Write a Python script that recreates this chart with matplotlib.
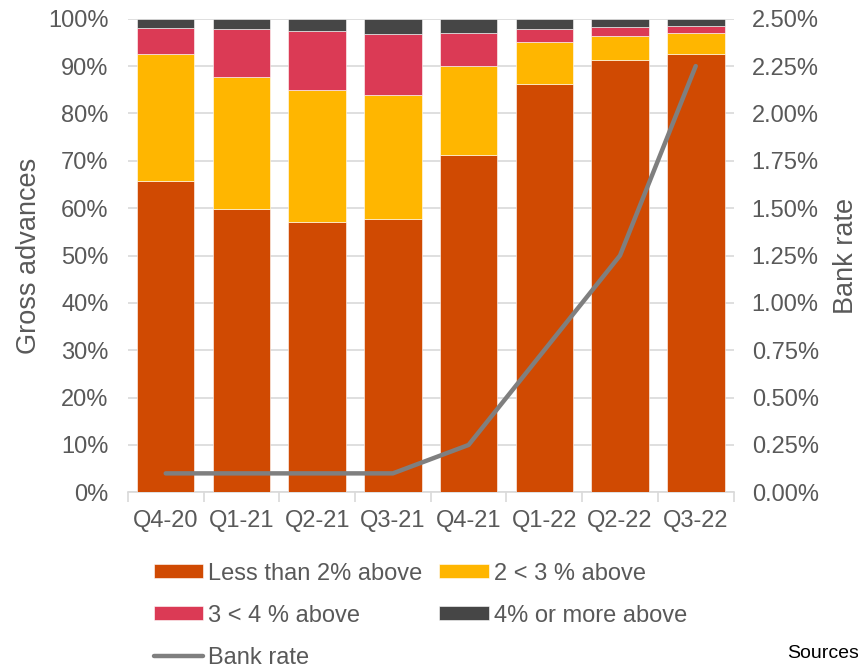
import matplotlib
matplotlib.use("Agg")
import matplotlib.pyplot as plt
import numpy as np
from matplotlib.ticker import FuncFormatter, MultipleLocator

plt.rcParams['font.family'] = ['Liberation Sans', 'DejaVu Sans']

quarters = ["Q4-20", "Q1-21", "Q2-21", "Q3-21", "Q4-21", "Q1-22", "Q2-22", "Q3-22"]
less_than_2 = [65.8, 59.8, 57.1, 57.7, 71.2, 86.3, 91.3, 92.6]
from_2_to_3 = [26.8, 27.9, 27.9, 26.2, 18.9, 8.8, 5.1, 4.4]
from_3_to_4 = [5.5, 10.2, 12.5, 12.9, 6.9, 2.8, 1.9, 1.5]
four_plus = [1.9, 2.1, 2.5, 3.2, 3.0, 2.1, 1.7, 1.5]
bank_rate = [0.10, 0.10, 0.10, 0.10, 0.25, 0.75, 1.25, 2.25]

c_less = "#D04A02"
c_23 = "#FFB600"
c_34 = "#DB3A55"
c_4 = "#464646"
c_line = "#7F7F7F"
txt = "#595959"
grid = "#D9D9D9"

fig = plt.figure(figsize=(8.58, 6.68), dpi=100)
ax = fig.add_axes([0.149, 0.263, 0.706, 0.709])
x = np.arange(len(quarters))
w = 0.76
series = [(less_than_2, c_less, "Less than 2% above"),
          (from_2_to_3, c_23, "2 < 3 % above"),
          (from_3_to_4, c_34, "3 < 4 % above"),
          (four_plus, c_4, "4% or more above")]
bottom = np.zeros(len(quarters))
handles = []
for vals, col, lab in series:
    b = ax.bar(x, vals, w, bottom=bottom, color=col, label=lab,
               edgecolor="#FFFFFF", linewidth=0.4, zorder=3)
    handles.append(b)
    bottom += np.array(vals)

ax.set_ylim(0, 100)
ax.set_xlim(-0.5, len(quarters) - 0.5)
ax.yaxis.set_major_locator(MultipleLocator(10))
ax.yaxis.set_major_formatter(FuncFormatter(lambda v, p: f"{v:.0f}%"))
ax.grid(axis="y", color=grid, linewidth=1.2, zorder=0)
ax.set_axisbelow(True)
for s in ["top", "right", "left"]:
    ax.spines[s].set_visible(False)
ax.spines["bottom"].set_color(grid)
ax.spines["bottom"].set_linewidth(1.2)
ax.set_xticks(x)
ax.set_xticklabels(quarters)
ax.set_xticks(np.arange(-0.5, len(quarters)), minor=True)
ax.tick_params(axis="x", which="major", length=0, pad=13, labelsize=17, labelcolor=txt)
ax.tick_params(axis="x", which="minor", length=7, color=grid, width=1.2)
ax.tick_params(axis="y", length=0, labelsize=17, labelcolor=txt, pad=14)
ax.set_ylabel("Gross advances", fontsize=19.5, color=txt, labelpad=4)

ax2 = ax.twinx()
ln, = ax2.plot(x, bank_rate, color=c_line, linewidth=3.2, solid_capstyle="round",
               solid_joinstyle="round", zorder=5, label="Bank rate")
ax2.set_ylim(0, 2.5)
ax2.yaxis.set_major_locator(MultipleLocator(0.25))
ax2.yaxis.set_major_formatter(FuncFormatter(lambda v, p: f"{v:.2f}%"))
for s in ax2.spines.values():
    s.set_visible(False)
ax2.tick_params(axis="y", length=0, labelsize=17, labelcolor=txt, pad=13)
ax2.set_ylabel("Bank rate", fontsize=19.5, color=txt, labelpad=10)

order = [handles[0], handles[2], ln, handles[1], handles[3]]
labels = [h.get_label() for h in order]
leg = fig.legend(order, labels, ncol=2, loc="upper left",
                 bbox_to_anchor=(0.168, 0.172), frameon=False,
                 fontsize=17, labelcolor=txt, handlelength=2.1, handleheight=0.55,
                 handletextpad=0.22, columnspacing=0.7, labelspacing=0.85,
                 borderaxespad=0)

fig.text(0.917, 0.022, "Sources", fontsize=14, color="black", ha="left", va="center")

fig.savefig("out.png", dpi=100)
